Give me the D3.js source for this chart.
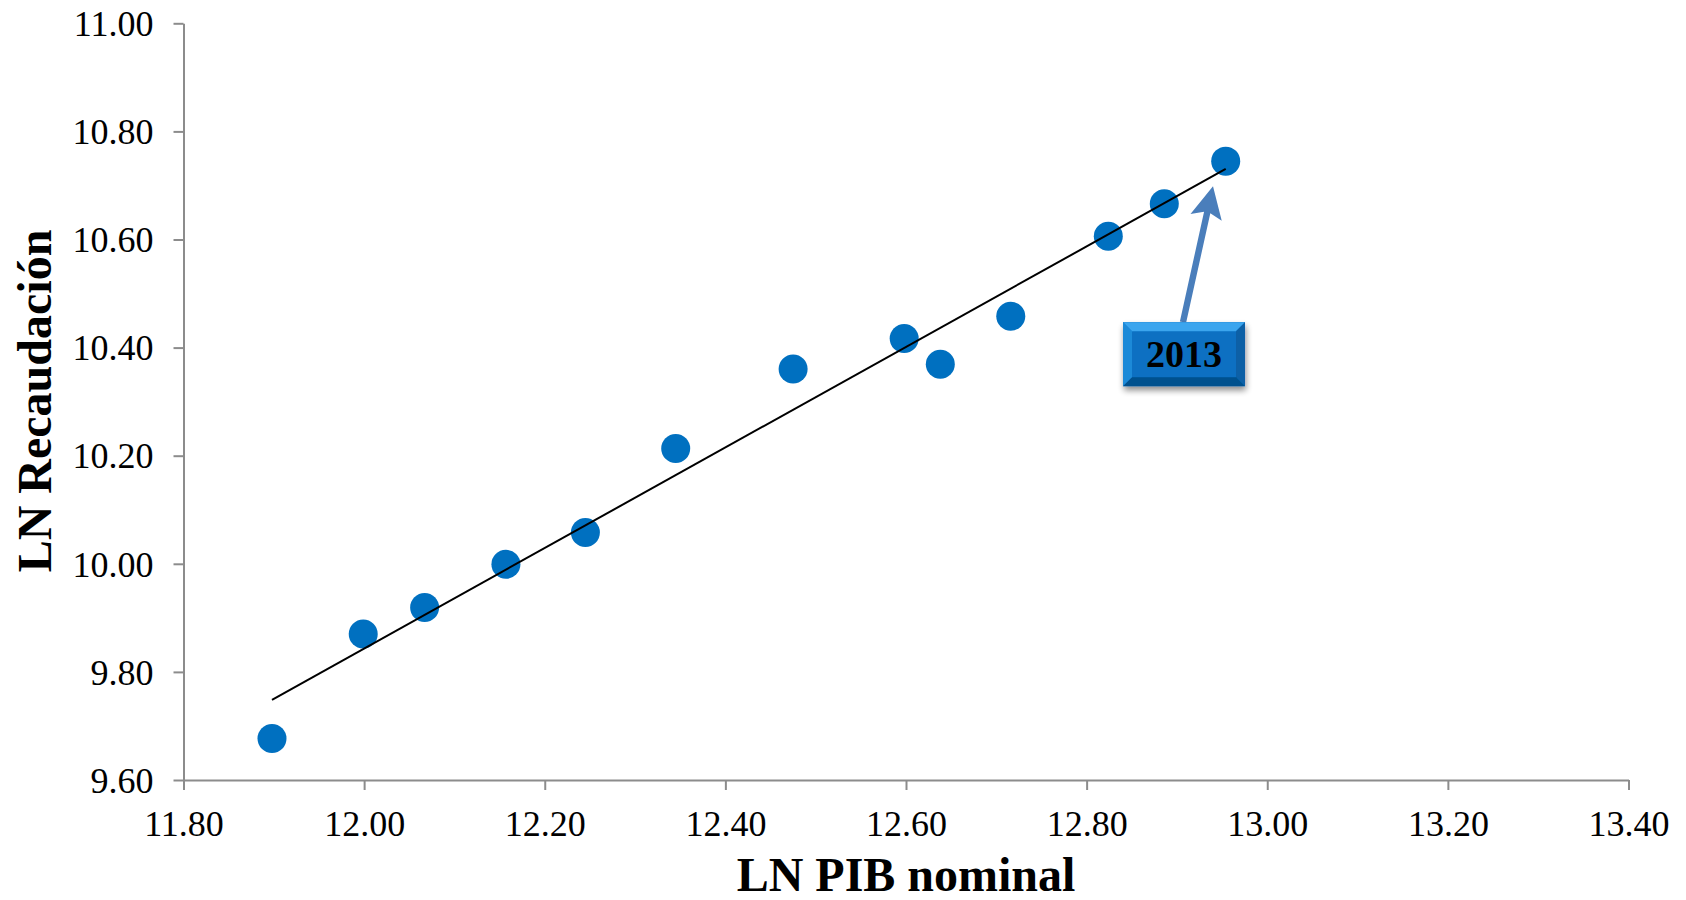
<!DOCTYPE html>
<html>
<head>
<meta charset="utf-8">
<script src="https://cdn.jsdelivr.net/npm/d3@7"></script>
<style>
  html, body { margin: 0; padding: 0; background: #fff; }
  svg { display: block; }
  svg text { font-family: "Liberation Serif", "Times New Roman", serif; }
</style>
</head>
<body>
<svg id="chart" width="1686" height="900"></svg>
<script>
// ---- data ----
const lnPIB = [11.898, 11.999, 12.067, 12.157, 12.245, 12.345, 12.475, 12.598, 12.638, 12.716, 12.824, 12.886, 12.954];
const lnRecaudacion = [9.677, 9.870, 9.919, 9.999, 10.058, 10.2135, 10.3605, 10.4167, 10.369, 10.458, 10.606, 10.666, 10.745];
const xTicks = [11.8, 12.0, 12.2, 12.4, 12.6, 12.8, 13.0, 13.2, 13.4];
const yTicks = [9.6, 9.8, 10.0, 10.2, 10.4, 10.6, 10.8, 11.0];
const xTitle = "LN PIB nominal";
const yTitle = "LN Recaudación";
const annotationLabel = "2013";
const annotationIndex = 12;

// ---- layout ----
const svg = d3.select("#chart");
const x = d3.scaleLinear().domain([11.8, 13.4]).range([183.5, 1628.5]);
const y = d3.scaleLinear().domain([9.6, 11.0]).range([780, 23.3]);
const serif = "Liberation Serif, Times New Roman, serif";
const axisColor = "#8c8c8c";

const defs = svg.append("defs");
const shadow = defs.append("filter").attr("id", "shadow")
  .attr("x", "-20%").attr("y", "-20%").attr("width", "150%").attr("height", "160%");
shadow.append("feGaussianBlur").attr("in", "SourceAlpha").attr("stdDeviation", 3);
shadow.append("feOffset").attr("dx", 1).attr("dy", 4).attr("result", "off");
shadow.append("feComponentTransfer").append("feFuncA").attr("type", "linear").attr("slope", 0.45);
const merge = shadow.append("feMerge");
merge.append("feMergeNode");
merge.append("feMergeNode").attr("in", "SourceGraphic");

// axes
const fmt = d3.format(".2f");
const xAxis = svg.append("g").attr("transform", `translate(0,${y(9.6)})`)
  .call(d3.axisBottom(x).tickValues(xTicks).tickFormat(fmt).tickSize(10).tickPadding(20).tickSizeOuter(0));
const yAxis = svg.append("g").attr("transform", `translate(${x(11.8)},0)`)
  .call(d3.axisLeft(y).tickValues(yTicks).tickFormat(fmt).tickSize(10).tickPadding(20).tickSizeOuter(0));
[xAxis, yAxis].forEach(g => {
  g.attr("font-family", serif).attr("font-size", 36);
  g.select(".domain").attr("stroke", axisColor).attr("stroke-width", 2);
  g.selectAll(".tick line").attr("stroke", axisColor).attr("stroke-width", 2);
  g.selectAll(".tick text").attr("fill", "#000").attr("font-family", serif).attr("font-size", 36);
});
yAxis.selectAll(".tick text").attr("dy", "0.34em");

// axis titles
svg.append("text").attr("x", 906).attr("y", 891).attr("text-anchor", "middle")
  .attr("font-family", serif).attr("font-size", 48).attr("font-weight", "bold").text(xTitle);
svg.append("text").attr("transform", "translate(51,401) rotate(-90)").attr("text-anchor", "middle")
  .attr("font-family", serif).attr("font-size", 48).attr("font-weight", "bold").text(yTitle);

// points
const pts = lnPIB.map((v, i) => ({ x: v, y: lnRecaudacion[i] }));
svg.append("g").selectAll("circle").data(pts).join("circle")
  .attr("cx", d => x(d.x)).attr("cy", d => y(d.y)).attr("r", 14.5).attr("fill", "#0070c0");

// linear trend (OLS)
const mx = d3.mean(lnPIB), my = d3.mean(lnRecaudacion);
const slope = d3.sum(pts, d => (d.x - mx) * (d.y - my)) / d3.sum(pts, d => (d.x - mx) ** 2);
const intercept = my - slope * mx;
const [x0, x1] = d3.extent(lnPIB);
svg.append("line")
  .attr("x1", x(x0)).attr("y1", y(intercept + slope * x0))
  .attr("x2", x(x1)).attr("y2", y(intercept + slope * x1))
  .attr("stroke", "#000").attr("stroke-width", 2);

// annotation: arrow + bevelled box
const ap = pts[annotationIndex];
const tipX = x(ap.x) - 12.7, tipY = y(ap.y) + 25;
const bx = tipX - 90, by = tipY + 136, bw = 122, bh = 64;
const baseX = bx + 60, baseY = by;
const ang = Math.atan2(tipY - baseY, tipX - baseX);
const ux = Math.cos(ang), uy = Math.sin(ang), nx = -uy, ny = ux;
const headLen = 32, headW = 16, shaftW = 3.2, notch = 5;
const hb = [tipX - ux * headLen, tipY - uy * headLen];
const arrowPts = [
  [baseX + nx * shaftW, baseY + ny * shaftW],
  [hb[0] + ux * notch + nx * shaftW, hb[1] + uy * notch + ny * shaftW],
  [hb[0] + nx * headW, hb[1] + ny * headW],
  [tipX, tipY],
  [hb[0] - nx * headW, hb[1] - ny * headW],
  [hb[0] + ux * notch - nx * shaftW, hb[1] + uy * notch - ny * shaftW],
  [baseX - nx * shaftW, baseY - ny * shaftW]
];
svg.append("path").attr("d", d3.line()(arrowPts) + "Z").attr("fill", "#4a7ebb");

const box = svg.append("g").attr("filter", "url(#shadow)");
const bev = 9;
box.append("rect").attr("x", bx).attr("y", by).attr("width", bw).attr("height", bh).attr("fill", "#0870c2");
const faces = [
  { p: [[bx, by], [bx + bw, by], [bx + bw - bev, by + bev], [bx + bev, by + bev]], c: "#3aa5ee" },
  { p: [[bx, by], [bx + bev, by + bev], [bx + bev, by + bh - bev], [bx, by + bh]], c: "#1f8ad8" },
  { p: [[bx + bw, by], [bx + bw, by + bh], [bx + bw - bev, by + bh - bev], [bx + bw - bev, by + bev]], c: "#0860a6" },
  { p: [[bx, by + bh], [bx + bev, by + bh - bev], [bx + bw - bev, by + bh - bev], [bx + bw, by + bh]], c: "#05518e" }
];
box.selectAll("path.face").data(faces).join("path").attr("class", "face")
  .attr("d", d => d3.line()(d.p) + "Z").attr("fill", d => d.c);
svg.append("text").attr("x", bx + bw / 2).attr("y", by + 45).attr("text-anchor", "middle")
  .attr("font-family", serif).attr("font-size", 38).attr("font-weight", "bold")
  .attr("fill", "#000").text(annotationLabel);
</script>
</body>
</html>
